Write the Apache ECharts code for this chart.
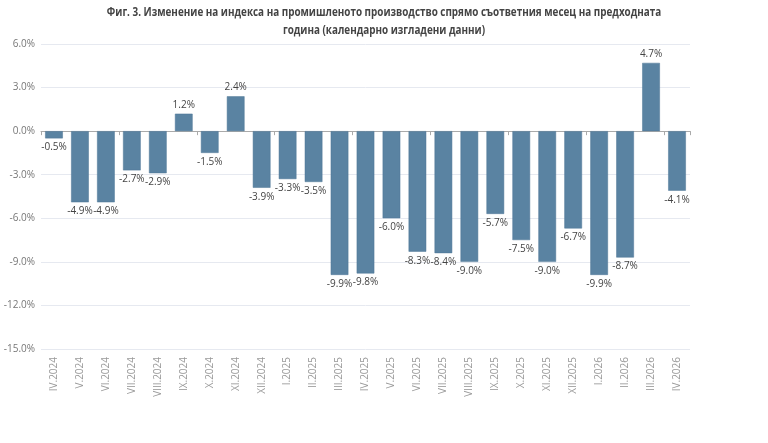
<!DOCTYPE html>
<html>
<head>
<meta charset="utf-8">
<script src="https://cdn.jsdelivr.net/npm/echarts@6/dist/echarts.min.js"></script>
<style>
  html, body { margin: 0; padding: 0; background: #fff; }
  #chart { width: 768px; height: 443px; }
</style>
</head>
<body>
<div id="chart"></div>
<script>
var categories = ['IV.2024', 'V.2024', 'VI.2024', 'VII.2024', 'VIII.2024', 'IX.2024', 'X.2024', 'XI.2024', 'XII.2024',
  'I.2025', 'II.2025', 'III.2025', 'IV.2025', 'V.2025', 'VI.2025', 'VII.2025', 'VIII.2025', 'IX.2025', 'X.2025',
  'XI.2025', 'XII.2025', 'I.2026', 'II.2026', 'III.2026', 'IV.2026']
var values = [-0.5, -4.9, -4.9, -2.7, -2.9, 1.2, -1.5, 2.4, -3.9, -3.3, -3.5, -9.9, -9.8, -6.0, -8.3, -8.4, -9.0,
  -5.7, -7.5, -9.0, -6.7, -9.9, -8.7, 4.7, -4.1]
var yMin = -15
var yMax = 6
var yStep = 3
var titleText = 'Фиг. 3. Изменение на индекса на промишленото производство спрямо съответния месец на предходната\nгодина (календарно изгладени данни)'

var font = '"Open Sans", "Noto Sans", sans-serif'

var myChart = echarts.init(document.getElementById('chart'))
var option = {
  animation: false,
  // title drawn as graphic text so it can be narrowed like the condensed original
  graphic: [
    {
      type: 'text',
      x: 384,
      y: 3,
      scaleX: 0.76,
      style: {
        text: titleText,
        textAlign: 'center',
        textVerticalAlign: 'top',
        font: 'bold 13px "Open Sans", sans-serif',
        fill: '#444',
        lineHeight: 18
      }
    }
  ],
  grid: {
    top: 44,
    left: 41,
    right: 78,
    bottom: 94,
    containLabel: false
  },
  xAxis: [
    {
      type: 'category',
      data: categories,
      axisLine: {
        show: true,
        onZero: true,
        lineStyle: { color: '#aaa', width: 1 }
      },
      axisTick: {
        show: true,
        length: 4,
        lineStyle: { color: '#aaa' }
      },
      axisLabel: { show: false },
      splitLine: { show: false }
    },
    {
      type: 'category',
      data: categories,
      position: 'bottom',
      axisLine: { show: false },
      axisTick: { show: false },
      axisLabel: {
        interval: 0,
        rotate: 90,
        margin: 8,
        color: '#999',
        fontFamily: font,
        fontSize: 10
      }
    }
  ],
  yAxis: {
    type: 'value',
    min: yMin,
    max: yMax,
    interval: yStep,
    axisLine: { show: false },
    axisTick: { show: false },
    axisLabel: {
      margin: 6,
      color: '#777',
      fontFamily: font,
      fontSize: 10,
      formatter: function (v) { return v.toFixed(1) + '%' }
    },
    splitLine: {
      lineStyle: { color: '#e6e9f0' }
    }
  },
  series: [
    {
      type: 'bar',
      xAxisIndex: 0,
      barWidth: '68%',
      data: values.map(function (v) {
        return {
          value: v,
          label: { position: v >= 0 ? 'top' : 'bottom' }
        }
      }),
      itemStyle: {
        color: '#5a83a2',
        borderColor: '#4f7796',
        borderWidth: 0.5
      },
      label: {
        show: true,
        distance: 4,
        color: '#444',
        fontFamily: font,
        fontSize: 10,
        formatter: function (p) { return p.value.toFixed(1) + '%' }
      }
    }
  ]
}
myChart.clear()
myChart.setOption(option)
</script>
</body>
</html>
